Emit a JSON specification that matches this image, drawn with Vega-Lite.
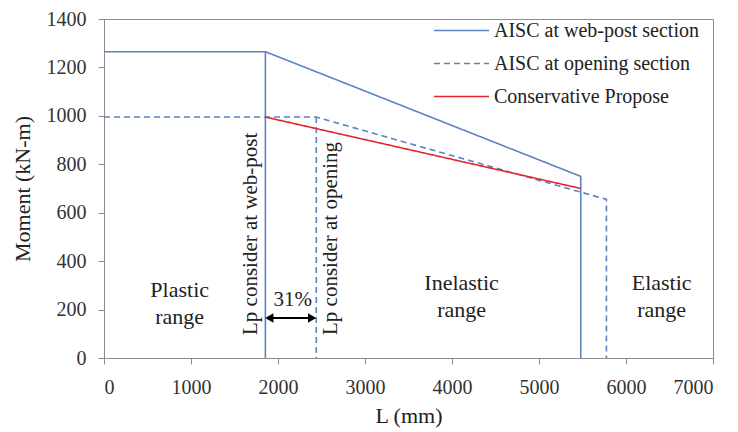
{
  "$schema": "https://vega.github.io/schema/vega-lite/v6.json",
  "autosize": {"type": "none"},
  "width": 609,
  "height": 339,
  "padding": {"left": 104, "top": 19, "right": 25, "bottom": 74},
  "background": "white",
  "config": {
    "font": "Liberation Serif",
    "view": {"stroke": "#8c8c8c", "strokeWidth": 1},
    "axis": {
      "labelFont": "Liberation Serif",
      "titleFont": "Liberation Serif",
      "labelFontSize": 20,
      "titleFontSize": 22,
      "titleFontWeight": "normal",
      "labelColor": "#333333",
      "titleColor": "#222222",
      "domainColor": "#8c8c8c",
      "tickColor": "#8c8c8c",
      "grid": false,
      "tickSize": 6
    }
  },
  "datasets": {
    "lines": [
      {"s": "AISC at web-post section", "seg": "a", "o": 1, "x": 0, "y": 1265},
      {"s": "AISC at web-post section", "seg": "a", "o": 2, "x": 1855, "y": 1265},
      {"s": "AISC at web-post section", "seg": "a", "o": 3, "x": 5480, "y": 750},
      {"s": "AISC at web-post section", "seg": "a", "o": 4, "x": 5480, "y": 0},
      {"s": "AISC at web-post section", "seg": "b", "o": 1, "x": 1855, "y": 1265},
      {"s": "AISC at web-post section", "seg": "b", "o": 2, "x": 1855, "y": 0},
      {"s": "AISC at opening section", "seg": "c", "o": 1, "x": 0, "y": 995},
      {"s": "AISC at opening section", "seg": "c", "o": 2, "x": 2440, "y": 995},
      {"s": "AISC at opening section", "seg": "c", "o": 3, "x": 5775, "y": 655},
      {"s": "AISC at opening section", "seg": "c", "o": 4, "x": 5775, "y": 0},
      {"s": "AISC at opening section", "seg": "d", "o": 1, "x": 2440, "y": 995},
      {"s": "AISC at opening section", "seg": "d", "o": 2, "x": 2440, "y": 0},
      {"s": "Conservative Propose", "seg": "e", "o": 1, "x": 1855, "y": 995},
      {"s": "Conservative Propose", "seg": "e", "o": 2, "x": 5480, "y": 700}
    ],
    "arrow": [
      {"x": 1880, "y": 165, "x2": 2410}
    ],
    "heads": [
      {"x": 1900, "y": 165, "shp": "triangle-left"},
      {"x": 2392, "y": 165, "shp": "triangle-right"}
    ],
    "ranges": [
      {"x": 870, "y": 280, "t": "Plastic\nrange"},
      {"x": 4110, "y": 309, "t": "Inelastic\nrange"},
      {"x": 6410, "y": 309, "t": "Elastic\nrange"}
    ],
    "lp": [
      {"x": 1690, "y": 95, "t": "Lp consider at web-post"},
      {"x": 2610, "y": 95, "t": "Lp consider at opening"}
    ],
    "pct": [
      {"x": 2170, "y": 240, "t": "31%"}
    ]
  },
  "layer": [
    {
      "data": {"name": "lines"},
      "mark": {"type": "line", "strokeCap": "butt"},
      "encoding": {
        "x": {
          "field": "x", "type": "quantitative",
          "scale": {"domain": [0, 7000], "nice": false},
          "axis": {"values": [0, 1000, 2000, 3000, 4000, 5000, 6000, 7000], "format": "d", "labelPadding": 13, "title": "L (mm)", "titlePadding": 8}
        },
        "y": {
          "field": "y", "type": "quantitative",
          "scale": {"domain": [0, 1400], "nice": false},
          "axis": {"values": [0, 200, 400, 600, 800, 1000, 1200, 1400], "format": "d", "labelPadding": 12, "title": "Moment (kN-m)", "titlePadding": 12}
        },
        "detail": {"field": "seg"},
        "order": {"field": "o"},
        "color": {
          "field": "s", "type": "nominal",
          "scale": {"domain": ["AISC at web-post section", "AISC at opening section", "Conservative Propose"], "range": ["#5b84bf", "#5b84bf", "#e3262b"]},
          "legend": {
            "title": null, "orient": "none", "legendX": 329, "legendY": -5,
            "symbolType": "stroke", "symbolSize": 3025, "labelFontSize": 20,
            "labelFont": "Liberation Serif", "labelColor": "#222222", "labelOffset": 4, "rowPadding": 0, "clipHeight": 33, "labelLimit": 0
          }
        },
        "strokeDash": {
          "field": "s", "type": "nominal",
          "scale": {"domain": ["AISC at web-post section", "AISC at opening section", "Conservative Propose"], "range": [[1, 0], [6, 4], [1, 0]]},
          "legend": {"title": null}
        },
        "strokeWidth": {
          "field": "s", "type": "nominal",
          "scale": {"domain": ["AISC at web-post section", "AISC at opening section", "Conservative Propose"], "range": [1.6, 1.6, 3]},
          "legend": {"title": null}
        }
      }
    },
    {
      "data": {"name": "arrow"},
      "mark": {"type": "rule", "color": "black", "strokeWidth": 2},
      "encoding": {
        "x": {"field": "x", "type": "quantitative"},
        "x2": {"field": "x2"},
        "y": {"field": "y", "type": "quantitative"}
      }
    },
    {
      "data": {"name": "heads"},
      "mark": {"type": "point", "filled": true, "color": "black", "opacity": 1, "size": 90},
      "encoding": {
        "x": {"field": "x", "type": "quantitative"},
        "y": {"field": "y", "type": "quantitative"},
        "shape": {"field": "shp", "type": "nominal", "scale": null}
      }
    },
    {
      "data": {"name": "ranges"},
      "mark": {"type": "text", "fontSize": 22, "lineBreak": "\n", "lineHeight": 27, "color": "#222222", "align": "center", "baseline": "middle"},
      "encoding": {
        "x": {"field": "x", "type": "quantitative"},
        "y": {"field": "y", "type": "quantitative"},
        "text": {"field": "t"}
      }
    },
    {
      "data": {"name": "lp"},
      "mark": {"type": "text", "fontSize": 21, "angle": 270, "color": "#222222", "align": "left", "baseline": "middle"},
      "encoding": {
        "x": {"field": "x", "type": "quantitative"},
        "y": {"field": "y", "type": "quantitative"},
        "text": {"field": "t"}
      }
    },
    {
      "data": {"name": "pct"},
      "mark": {"type": "text", "fontSize": 21, "color": "#222222", "align": "center", "baseline": "middle"},
      "encoding": {
        "x": {"field": "x", "type": "quantitative"},
        "y": {"field": "y", "type": "quantitative"},
        "text": {"field": "t"}
      }
    }
  ]
}
